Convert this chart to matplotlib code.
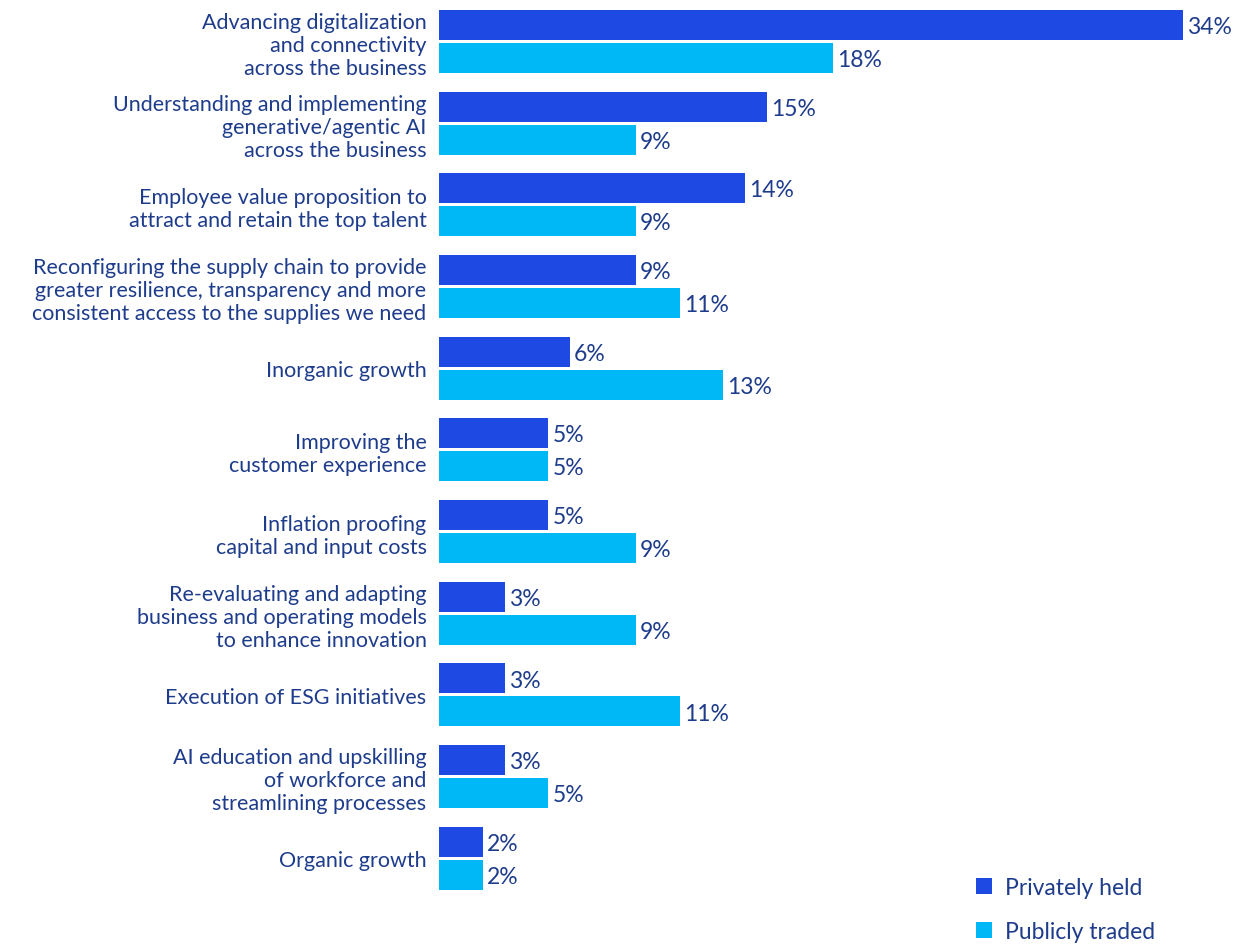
import matplotlib.pyplot as plt
import numpy as np

categories = [
    "Advancing digitalization\nand connectivity\nacross the business",
    "Understanding and implementing\ngenerative/agentic AI\nacross the business",
    "Employee value proposition to\nattract and retain the top talent",
    "Reconfiguring the supply chain to provide\ngreater resilience, transparency and more\nconsistent access to the supplies we need",
    "Inorganic growth",
    "Improving the\ncustomer experience",
    "Inflation proofing\ncapital and input costs",
    "Re-evaluating and adapting\nbusiness and operating models\nto enhance innovation",
    "Execution of ESG initiatives",
    "AI education and upskilling\nof workforce and\nstreamlining processes",
    "Organic growth",
]
privately_held = [34, 15, 14, 9, 6, 5, 5, 3, 3, 3, 2]
publicly_traded = [18, 9, 9, 11, 13, 5, 9, 9, 11, 5, 2]
series_names = ["Privately held", "Publicly traded"]

dark = "#1E49E2"
light = "#00B8F5"
text_color = "#1E3C8C"

plt.rcParams['font.family'] = ['Lato', 'DejaVu Sans']

fig = plt.figure(figsize=(12.38, 9.45), dpi=100)
ax = fig.add_axes([439 / 1238, 0, 1 - 439 / 1238, 1])

y = np.arange(len(categories))
h = 0.367
off = 0.202
b1 = ax.barh(y - off, privately_held, height=h, color=dark, label=series_names[0])
b2 = ax.barh(y + off, publicly_traded, height=h, color=light, label=series_names[1])

for bars, vals in ((b1, privately_held), (b2, publicly_traded)):
    for bar, v in zip(bars, vals):
        ax.text(bar.get_width() + 0.18, bar.get_y() + bar.get_height() / 2 + 0.02,
                f"{v}%", va="center", ha="left", fontsize=16.5, color=text_color)

ax.set_xlim(0, 799 / 21.88)
ax.set_ylim(11.05, -0.52)
ax.set_yticks(y)
ax.set_yticklabels(categories, fontsize=15.5, color=text_color, linespacing=1.2)
ax.tick_params(axis="y", length=0, pad=9)
ax.set_xticks([])
for s in ax.spines.values():
    s.set_visible(False)

leg = fig.legend(handles=[b1, b2], labels=series_names, loc="lower left",
                 bbox_to_anchor=(955 / 1238, -0.02), frameon=False, fontsize=16.5,
                 handlelength=0.7, handleheight=0.7, handletextpad=0.6,
                 labelspacing=1.0, labelcolor=text_color)

fig.savefig("out.png", dpi=100)
